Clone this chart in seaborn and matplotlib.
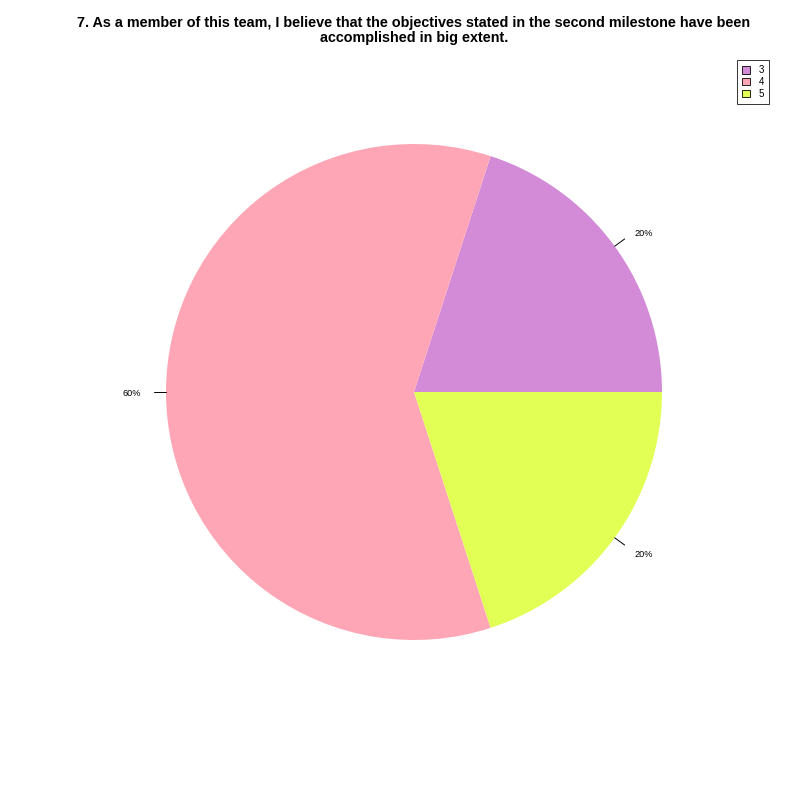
import numpy as np
import matplotlib
matplotlib.use("Agg")
import matplotlib.pyplot as plt
import seaborn as sns

# survey answers for question 7
categories = ["3", "4", "5"]
percentages = [20, 60, 20]
slice_colors = ["#D38BD7", "#FEA6B5", "#E1FF55"]
title = ("7. As a member of this team, I believe that the objectives stated in the second milestone have been\n"
         "accomplished in big extent.")

sns.set_theme(style="white")
plt.rcParams['font.family'] = ['Liberation Sans', 'DejaVu Sans']
plt.rcParams['text.color'] = "black"
palette = sns.color_palette(slice_colors)

fig = plt.figure(figsize=(8, 8), dpi=100)
ax = fig.add_axes([0, 0, 1, 1])

cx, cy, r = 414, 408, 248
ax.pie(percentages, colors=palette, startangle=0, counterclock=True,
       center=(cx, cy), radius=r, frame=True, wedgeprops=dict(linewidth=0))
ax.set_xlim(0, 800)
ax.set_ylim(0, 800)
ax.set_aspect("equal")
ax.axis("off")

# R-style tick marks and labels
total = sum(percentages)
start = 0.0
for p in percentages:
    mid = np.deg2rad(start + 360 * p / total / 2)
    start += 360 * p / total
    x0, y0 = cx + r * np.cos(mid), cy + r * np.sin(mid)
    x1, y1 = cx + 1.05 * r * np.cos(mid), cy + 1.05 * r * np.sin(mid)
    ax.plot([x0, x1], [y0, y1], color="black", lw=0.7)
    tx, ty = cx + 1.1 * r * np.cos(mid), cy + 1.1 * r * np.sin(mid) - 2
    ax.text(tx, ty, f"{p}%", fontsize=6.6, color="black",
            ha="left" if np.cos(mid) > 0 else "right", va="center")

fig.text(0.5175, 0.98, title, ha="center", va="top", fontsize=10.35,
         fontweight="bold", color="black", linespacing=1.08)

handles = [plt.Rectangle((0, 0), 1, 1, facecolor=c, edgecolor="black", lw=0.6)
           for c in palette]
leg = ax.legend(handles, categories, loc="upper right", bbox_to_anchor=(0.9615, 0.925),
                fontsize=7, frameon=True, fancybox=False, handlelength=0.75,
                handleheight=0.75, handletextpad=0.9, borderpad=0.55, labelspacing=0.18,
                borderaxespad=0)
leg.get_frame().set_edgecolor("black")
leg.get_frame().set_linewidth(0.7)
for t in leg.get_texts():
    t.set_color("black")

fig.savefig("out.png", dpi=100, facecolor="white")
